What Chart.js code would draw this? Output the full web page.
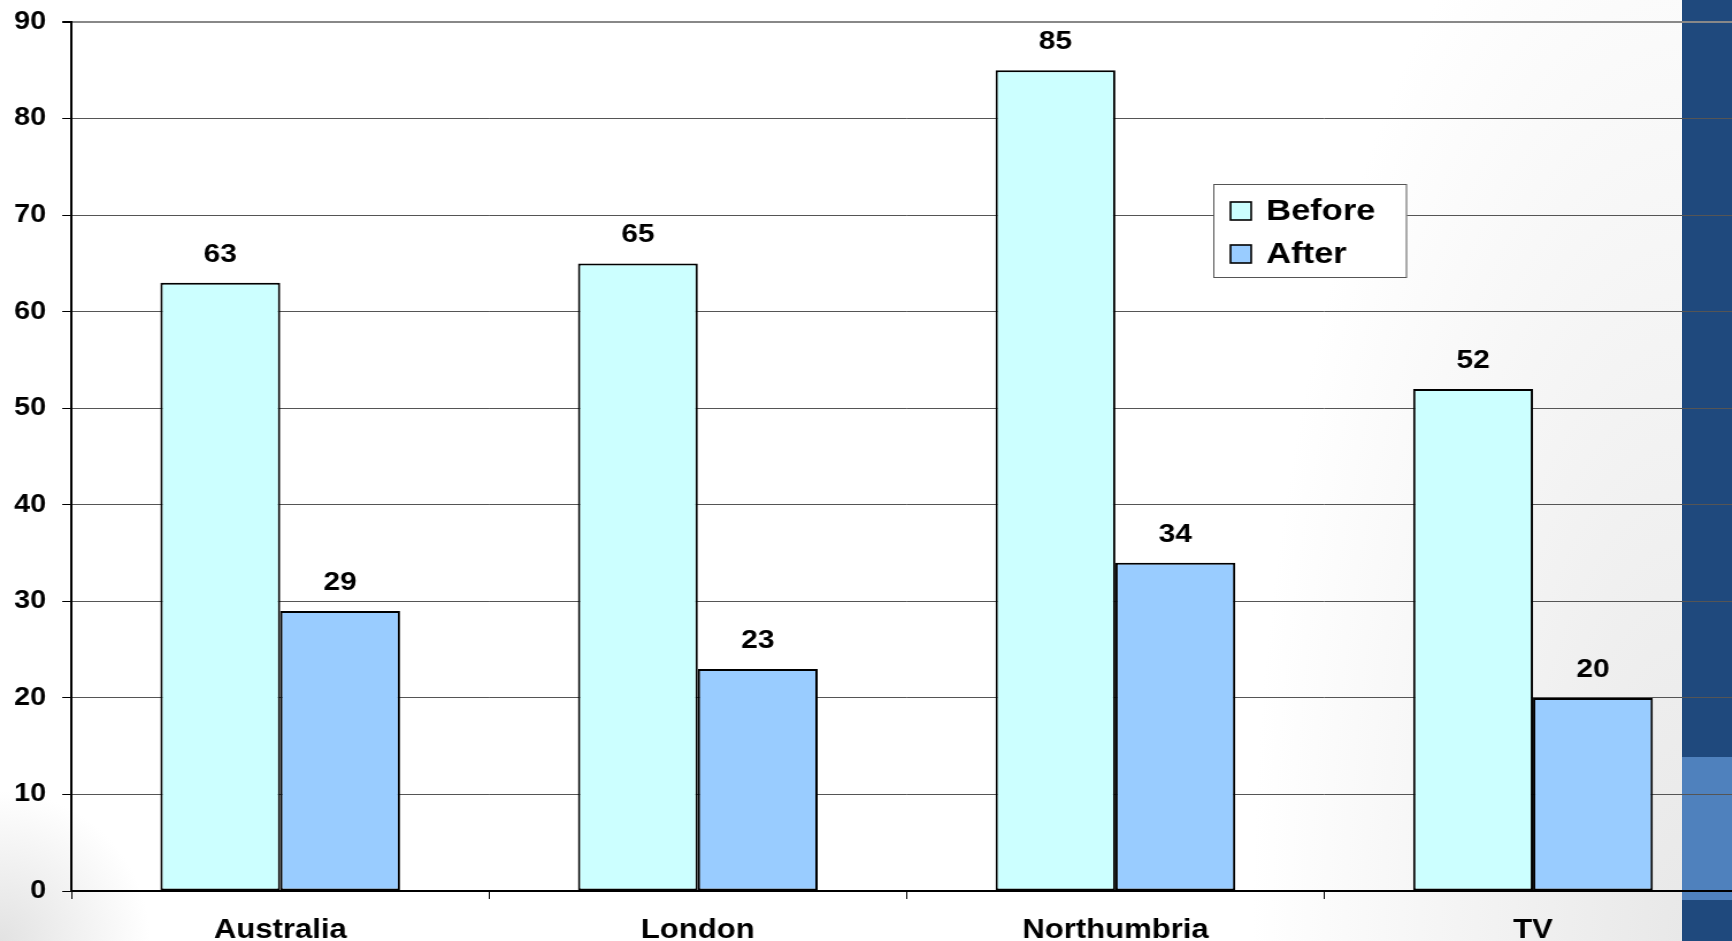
<!DOCTYPE html>
<html>
<head>
<meta charset="utf-8">
<title>Before / After</title>
<script src="https://cdn.jsdelivr.net/npm/chart.js@4.4.1/dist/chart.umd.min.js"></script>
<style>
  html, body { margin: 0; padding: 0; width: 1732px; height: 941px; overflow: hidden; }
  body {
    position: relative;
    background:
      radial-gradient(circle 150px at 0px 941px, #e2e2e2, rgba(255,255,255,0)),
      radial-gradient(ellipse 430px 1150px at 1682px 941px, #e8e8e8, rgba(255,255,255,0)),
      #ffffff;
  }
  #band {
    position: absolute; left: 1682px; top: 0; width: 50px; height: 941px;
    background: linear-gradient(to bottom, #1f497d 0px, #1f497d 757px, #4f81bd 757px, #4f81bd 900px, #1f497d 900px);
  }
  /* the drawing is laid out narrower and widened horizontally */
  #wrap {
    position: absolute; left: 0; top: 0; width: 1530px; height: 941px;
    transform: scaleX(1.15); transform-origin: 0 0;
  }
</style>
</head>
<body>
<div id="band"></div>
<div id="wrap"><canvas id="chart"></canvas></div>
<script>
const categories   = ['Australia', 'London', 'Northumbria', 'TV'];
const seriesNames  = ['Before', 'After'];
const beforeValues = [63, 65, 85, 52];
const afterValues  = [29, 23, 34, 20];
const yMin = 0, yMax = 90, yStep = 10;

const FONT = "'Liberation Sans', Arial, Helvetica, sans-serif";

// value printed above every bar
const valueLabels = {
  id: 'valueLabels',
  afterDatasetsDraw(chart) {
    const ctx = chart.ctx;
    ctx.save();
    ctx.font = `bold 26px ${FONT}`;
    ctx.fillStyle = '#000';
    ctx.textAlign = 'center';
    ctx.textBaseline = 'alphabetic';
    chart.data.datasets.forEach((ds, di) => {
      chart.getDatasetMeta(di).data.forEach((bar, i) => {
        ctx.fillText(String(ds.data[i]), bar.x, bar.y - 21);
      });
    });
    ctx.restore();
  }
};

// boxed legend sitting inside the plot
const boxLegend = {
  id: 'boxLegend',
  afterDraw(chart) {
    const ctx = chart.ctx;
    const left = 1055, top = 184, right = 1223.5, bottom = 278;
    ctx.save();
    ctx.fillStyle = '#ffffff';
    ctx.fillRect(left, top, right - left, bottom - top);
    ctx.strokeStyle = '#555';
    ctx.lineWidth = 1;
    ctx.strokeRect(left + 0.5, top + 0.5, right - left - 1, bottom - top - 1);
    ctx.font = `bold 30px ${FONT}`;
    ctx.textAlign = 'left';
    ctx.textBaseline = 'middle';
    const rows = [211, 254];
    chart.data.datasets.forEach((ds, i) => {
      const cy = rows[i];
      ctx.fillStyle = ds.backgroundColor;
      ctx.fillRect(1070, cy - 9, 18, 18);
      ctx.strokeStyle = '#000';
      ctx.lineWidth = 1.6;
      ctx.strokeRect(1070, cy - 9, 18, 18);
      ctx.fillStyle = '#000';
      ctx.fillText(ds.label, 1101, cy + 1);
    });
    ctx.restore();
  }
};

new Chart(document.getElementById('chart'), {
  type: 'bar',
  data: {
    labels: categories,
    datasets: [
      { label: seriesNames[0], data: beforeValues, backgroundColor: '#ccffff',
        borderColor: '#000', borderWidth: 2, borderSkipped: false,
        categoryPercentage: 0.574, barPercentage: 1 },
      { label: seriesNames[1], data: afterValues, backgroundColor: '#99ccff',
        borderColor: '#000', borderWidth: 2, borderSkipped: false,
        categoryPercentage: 0.574, barPercentage: 1 }
    ]
  },
  options: {
    responsive: true,
    maintainAspectRatio: false,
    animation: false,
    layout: { padding: { top: 22, right: 15.4, bottom: 0, left: 0 } },
    plugins: { legend: { display: false }, tooltip: { enabled: false } },
    scales: {
      x: {
        grid: { offset: true, drawOnChartArea: false, drawTicks: true, tickLength: 8, color: '#000', lineWidth: 1 },
        border: { display: true, color: '#000', width: 2 },
        ticks: { color: '#000', font: { family: FONT, size: 27, weight: 'bold' }, padding: 15, maxRotation: 0, autoSkip: false },
        afterFit(scale) { scale.height = 50; }
      },
      y: {
        min: yMin, max: yMax,
        grid: {
          color: c => (c.tick && c.tick.value === yMax) ? '#888' : '#555',
          lineWidth: c => (c.tick && c.tick.value === yMax) ? 2 : 1,
          tickLength: 8, tickColor: '#000'
        },
        border: { display: true, color: '#000', width: 2 },
        ticks: { stepSize: yStep, color: '#000', font: { family: FONT, size: 25, weight: 'bold' }, padding: 14 },
        afterFit(scale) { scale.width = 62.1; scale.paddingTop = 0; scale.paddingBottom = 0; }
      }
    }
  },
  plugins: [valueLabels, boxLegend]
});
</script>
</body>
</html>
